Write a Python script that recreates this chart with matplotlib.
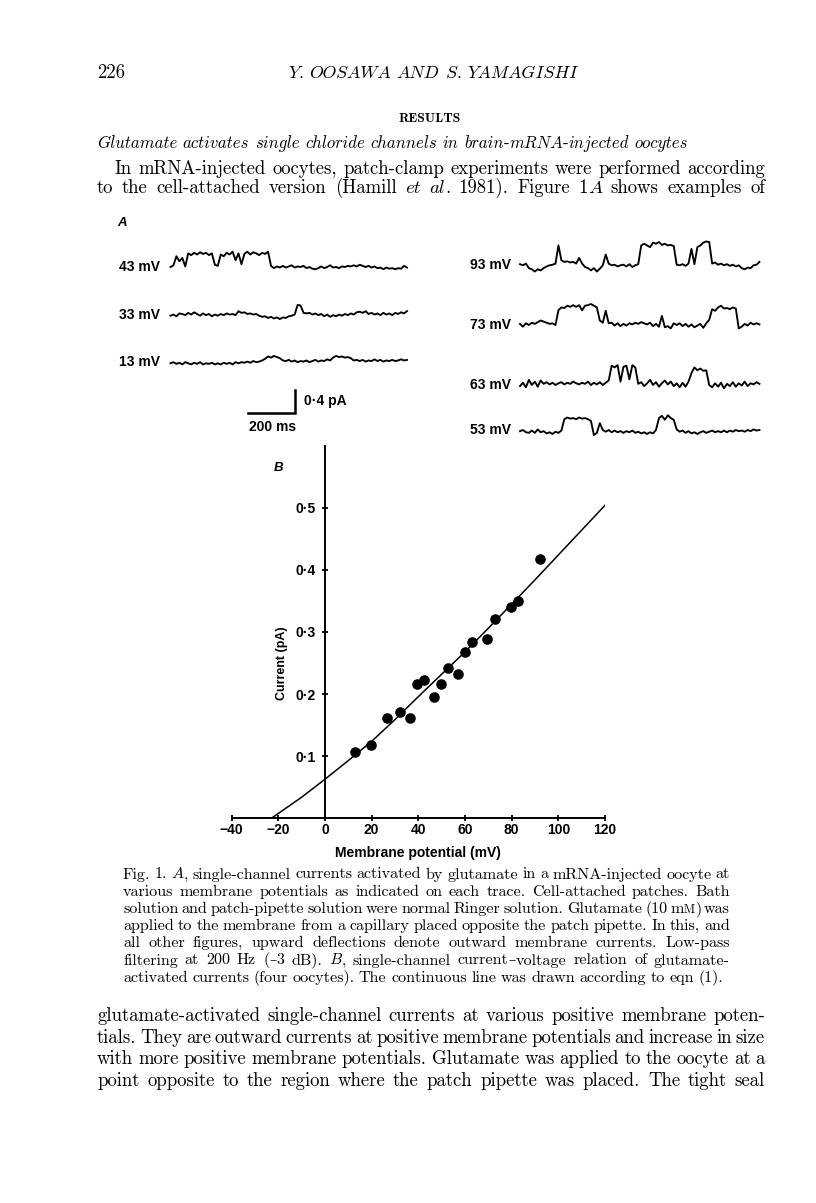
import re
import numpy as np
import matplotlib
matplotlib.use('Agg')
import matplotlib.pyplot as plt

W, H = 816, 1203

# ---- panel B: single-channel I-V relation ----
v_mv = [12.7, 19.5, 26.5, 32.3, 36.6, 39.5, 42.6, 46.9, 49.8, 52.9, 56.9, 59.9, 62.8, 69.5, 72.8, 79.5, 82.5, 92.3]
i_pa = [0.106, 0.118, 0.161, 0.171, 0.161, 0.216, 0.222, 0.195, 0.217, 0.242, 0.232, 0.267, 0.284, 0.288, 0.321, 0.341, 0.350, 0.418]
# continuous line (eqn 1)
fit_v = [-23, -10, 0, 10, 20, 30, 40, 50, 60, 70, 80, 90, 100, 110, 120]
fit_i = [0, 0.034, 0.063, 0.093, 0.124, 0.159, 0.196, 0.232, 0.268, 0.306, 0.345, 0.384, 0.424, 0.464, 0.504]
x_ticks = [-40, -20, 0, 20, 40, 60, 80, 100, 120]
x_ticklabels = ['\u221240', '\u221220', '0', '20', '40', '60', '80', '100', '120']
y_ticks = [0.1, 0.2, 0.3, 0.4, 0.5]
y_ticklabels = ['0\u00b71', '0\u00b72', '0\u00b73', '0\u00b74', '0\u00b75']

# ---- panel A: current traces (pA), one sample every 12.5 ms ----
dt_ms = 12.5
trace_43 = [0.00, 0.03, 0.19, 0.10, 0.16, 0.01, 0.24, 0.21, 0.25, 0.22, 0.26, 0.23, 0.25, 0.21, 0.24, 0.04,
            0.02, 0.22, 0.19, 0.25, 0.22, 0.27, 0.12, 0.24, 0.05, 0.23, 0.27, 0.22, 0.26, 0.24, 0.21, 0.25,
            0.23, 0.27, 0.02, -0.02, 0.01, -0.01, 0.02, -0.01, 0.01, 0.03, -0.01, 0.01, 0.00, 0.02, -0.02,
            0.00, -0.03, -0.04, -0.02, 0.01, -0.02, 0.00, 0.03, -0.01, 0.00, -0.02, 0.01, 0.00, 0.02, 0.01,
            0.03, 0.01, 0.04, 0.02, 0.00, 0.02, -0.01, 0.01, -0.02, -0.01, -0.04, -0.01, -0.03, -0.02, -0.04,
            -0.02, -0.03, 0.02, -0.01]
trace_33 = [0.00, 0.02, -0.01, 0.04, 0.03, 0.01, 0.05, 0.02, 0.06, 0.03, 0.00, 0.04, 0.01, 0.03, -0.01, 0.02,
            0.00, 0.03, 0.01, 0.04, 0.02, 0.03, 0.01, 0.08, 0.05, 0.06, 0.03, 0.04, 0.02, 0.03, 0.00, -0.02,
            -0.01, -0.04, -0.02, -0.05, -0.03, -0.06, -0.03, -0.04, -0.01, 0.00, 0.02, 0.19, 0.18, 0.05, 0.04,
            0.05, 0.02, 0.04, 0.01, 0.03, -0.01, 0.02, -0.02, 0.01, -0.01, 0.02, 0.00, 0.03, 0.01, 0.04, 0.02,
            0.06, 0.07, 0.05, 0.08, 0.03, 0.05, 0.02, 0.04, 0.01, 0.05, 0.02, 0.04, 0.01, 0.05, 0.03, 0.06,
            0.04, 0.08]
trace_13 = [0.00, 0.02, -0.01, 0.01, -0.02, 0.02, 0.00, -0.02, 0.01, -0.01, 0.02, -0.02, 0.00, -0.01, 0.01,
            -0.02, 0.00, -0.02, 0.01, -0.01, 0.01, -0.02, 0.02, 0.00, 0.02, 0.01, 0.03, 0.01, 0.04, 0.02,
            0.03, 0.05, 0.08, 0.12, 0.10, 0.13, 0.11, 0.09, 0.05, 0.04, 0.06, 0.03, 0.05, 0.02, 0.04, 0.03,
            0.05, 0.02, 0.04, 0.06, 0.03, 0.05, 0.04, 0.07, 0.05, 0.10, 0.13, 0.11, 0.12, 0.10, 0.11, 0.09,
            0.05, 0.06, 0.04, 0.06, 0.03, 0.05, 0.04, 0.07, 0.04, 0.06, 0.03, 0.05, 0.04, 0.06, 0.04, 0.05,
            0.07, 0.05, 0.06]
trace_93 = [0.02, 0.00, 0.03, -0.05, -0.07, -0.11, -0.07, -0.09, -0.05, -0.02, 0.00, 0.01, 0.03, 0.35, 0.09,
            0.06, 0.07, 0.05, 0.06, 0.03, 0.13, 0.03, -0.03, -0.05, -0.09, -0.05, -0.11, -0.06, 0.00, 0.19,
            0.03, 0.00, 0.01, -0.02, 0.00, 0.01, -0.02, 0.02, -0.03, 0.00, 0.02, 0.35, 0.38, 0.35, 0.32, 0.40,
            0.38, 0.41, 0.36, 0.38, 0.35, 0.36, 0.34, 0.01, 0.00, 0.02, -0.01, 0.03, 0.29, 0.02, 0.32, 0.35,
            0.40, 0.42, 0.41, 0.03, 0.05, 0.01, 0.03, 0.00, 0.02, -0.01, 0.01, -0.02, 0.00, -0.05, -0.07,
            -0.04, -0.05, 0.00, 0.01, 0.06]
trace_73 = [0.02, -0.03, 0.03, 0.00, 0.04, 0.02, 0.05, 0.08, 0.06, 0.04, 0.02, 0.03, 0.00, 0.26, 0.31, 0.30,
            0.34, 0.32, 0.35, 0.32, 0.35, 0.26, 0.34, 0.35, 0.37, 0.34, 0.31, 0.08, 0.04, 0.25, 0.03, 0.04,
            -0.01, 0.03, -0.02, 0.02, -0.01, 0.03, 0.01, 0.04, 0.02, 0.05, 0.03, 0.01, 0.04, -0.02, 0.02,
            -0.03, 0.16, -0.04, -0.02, -0.06, 0.03, 0.00, 0.03, -0.02, 0.02, -0.03, 0.01, -0.04, -0.01, 0.02,
            -0.05, 0.03, 0.09, 0.28, 0.25, 0.31, 0.34, 0.29, 0.30, 0.28, 0.31, 0.29, -0.06, -0.03, 0.02,
            -0.01, 0.04, 0.01, 0.03, 0.01]
trace_63 = [-0.02, 0.04, -0.04, 0.09, 0.00, 0.06, -0.03, 0.08, 0.02, 0.05, 0.01, 0.04, 0.00, 0.03, 0.05, 0.01,
            0.04, 0.02, 0.06, 0.03, 0.01, 0.04, 0.02, 0.06, 0.00, 0.04, 0.01, 0.05, 0.00, 0.04, 0.08, 0.34,
            0.31, 0.35, 0.06, 0.32, 0.34, 0.10, 0.35, 0.31, 0.02, 0.05, -0.02, 0.03, 0.09, 0.00, 0.05, -0.03,
            0.03, 0.08, 0.01, 0.06, -0.02, 0.03, -0.04, 0.04, -0.03, 0.06, 0.21, 0.31, 0.26, 0.29, 0.25, 0.26,
            0.00, -0.04, 0.03, -0.03, 0.04, -0.06, 0.02, -0.02, 0.05, -0.03, 0.03, -0.01, 0.06, -0.02, 0.03,
            0.01, 0.05, 0.02]
trace_53 = [0.01, 0.03, -0.01, -0.02, 0.02, -0.02, 0.04, -0.01, 0.01, -0.03, -0.01, -0.04, 0.00, -0.02, 0.02,
            0.22, 0.25, 0.23, 0.24, 0.22, 0.25, 0.23, 0.24, 0.22, 0.19, -0.06, -0.02, 0.15, 0.03, 0.00, 0.03,
            -0.01, 0.02, -0.01, 0.01, -0.02, 0.01, -0.01, 0.02, -0.02, 0.00, -0.03, -0.01, -0.04, -0.01,
            -0.03, 0.03, 0.24, 0.28, 0.21, 0.29, 0.24, 0.21, 0.04, 0.00, 0.02, -0.02, 0.01, -0.03, -0.01,
            -0.04, -0.01, 0.01, -0.02, 0.00, 0.02, -0.01, 0.01, -0.01, 0.02, -0.01, 0.02, 0.00, 0.03, 0.01,
            0.02, 0.00, 0.03, 0.01, 0.04, 0.02, 0.03]

left_labels = ['43 mV', '33 mV', '13 mV']
left_traces = [trace_43, trace_33, trace_13]
right_labels = ['93 mV', '73 mV', '63 mV', '53 mV']
right_traces = [trace_93, trace_73, trace_63, trace_53]

# ---- page text ----
running_head = '*Y. *OOSAWA *AND *S. *YAMAGISHI'
heading = '*Glutamate *activates *single *chloride *channels *in *brain-mRNA-injected *oocytes'
para = ['In mRNA-injected oocytes, patch-clamp experiments were performed according',
        'to the cell-attached version (Hamill *et *al|. 1981). Figure 1|*A shows examples of']
caption = ['Fig. 1. *A|, single-channel currents activated by glutamate in a mRNA-injected oocyte at',
           'various membrane potentials as indicated on each trace. Cell-attached patches. Bath',
           'solution and patch-pipette solution were normal Ringer solution. Glutamate (10 m|^M|) was',
           'applied to the membrane from a capillary placed opposite the patch pipette. In this, and',
           'all other figures, upward deflections denote outward membrane currents. Low-pass',
           'filtering at 200 Hz (|~\u2013|3 dB). *B|, single-channel current|~\u2013|voltage relation of glutamate-',
           'activated currents (four oocytes). The continuous line was drawn according to eqn (1).']
body = ['glutamate-activated single-channel currents at various positive membrane poten-',
        'tials. They are outward currents at positive membrane potentials and increase in size',
        'with more positive membrane potentials. Glutamate was applied to the oocyte at a',
        'point opposite to the region where the patch pipette was placed. The tight seal']

SANS = 'Liberation Sans'
ROMAN, ITAL = 'cmr10', 'cmmi10'
PX_MS = 0.2365   # px per ms in panel A
PX_PA = 56.7     # px per pA in panel A
SPACE = 0.333    # interword space, em

fig = plt.figure(figsize=(W / 100, H / 100), dpi=100)
page = fig.add_axes([0, 0, 1, 1])
page.set_xlim(0, W)
page.set_ylim(H, 0)
page.axis('off')
rend = fig.canvas.get_renderer()


def px_axes(x, top, w, h):
    return fig.add_axes([x / W, 1 - (top + h) / H, w / W, h / H])


def runs(word, size):
    out = []
    for part in word.split('|'):
        if part.startswith('*'):
            for r in re.findall(r'[A-Za-z]+|[^A-Za-z]+', part[1:]):
                out.append((r, ITAL if r[0].isalpha() else ROMAN, size))
        elif part.startswith('^'):
            out.append((part[1:], ROMAN, size * 0.75))
        elif part.startswith('~'):
            out.append((part[1:], 'DejaVu Serif', size * 0.9))
        elif part:
            out.append((part, ROMAN, size))
    return out


def make_words(text, yb, size):
    items = []
    for w in text.split(' '):
        arts, wx = [], 0
        for s, fam, sz in runs(w, size):
            t = page.text(0, yb, s, family=fam, fontsize=sz, va='baseline', ha='left')
            arts.append((t, wx))
            wx += t.get_window_extent(rend).width
        items.append((arts, wx))
    return items


def fit_size(lines, width, ref=10.0):
    # font size at which words + natural spaces fill the measure
    sizes = []
    for text, w in zip(lines, width):
        items = make_words(text, 0, ref)
        words_w = sum(ww for _, ww in items)
        for arts, _ in items:
            for t, _ in arts:
                t.remove()
        n = len(items) - 1
        sizes.append(w / (words_w / ref + n * SPACE * 100 / 72))
    return float(np.median(sizes))


def draw_line(text, x0, x1, yb, size, justify=True):
    items = make_words(text, yb, size)
    total = sum(w for _, w in items)
    if justify and len(items) > 1:
        gap = (x1 - x0 - total) / (len(items) - 1)
    else:
        gap = size * 100 / 72 * SPACE
    x = x0
    for arts, ww in items:
        for t, off in arts:
            t.set_x(x + off)
        x += ww + gap


body_size = fit_size(para + body, [650, 668, 668, 668, 668, 668])
cap_size = fit_size(caption[:-1], [607] * 6)
head_size = fit_size([heading], [591])
run_size = fit_size([running_head], [289])

# running head and text above the figure
page.text(97, 78, '226', family=ROMAN, fontsize=body_size, va='baseline')
draw_line(running_head, 288, 577, 78, run_size)
page.text(430, 122, 'RESULTS', family='cmb10', fontsize=body_size * 0.72, va='baseline', ha='center')
draw_line(heading, 97, 688, 147.5, head_size)
draw_line(para[0], 115, 765, 174, body_size)
draw_line(para[1], 97, 765, 193, body_size)

# figure caption and text below
for k, line in enumerate(caption):
    x1 = 730 if k < len(caption) - 1 else 723
    draw_line(line, 123, x1, 878.5 + 17.2 * k, cap_size)
for k, line in enumerate(body):
    draw_line(line, 97, 765, 1021 + 21.7 * k, body_size)

# ---- panel A ----
page.text(122, 223, 'A', family=SANS, fontsize=9.5, weight='bold', style='italic', va='center', ha='center')


def draw_trace(vals, x0, base):
    lo, hi = -0.3, 0.6
    dur = (len(vals) - 1) * dt_ms
    a = px_axes(x0, base - hi * PX_PA, dur * PX_MS, (hi - lo) * PX_PA)
    a.plot(np.arange(len(vals)) * dt_ms, vals, color='k', lw=1.35, clip_on=False)
    a.set_xlim(0, dur)
    a.set_ylim(lo, hi)
    a.axis('off')


for lab, vals, base, ly in zip(left_labels, left_traces, [267, 315.7, 363.3], [266.7, 315, 361.7]):
    draw_trace(vals, 170.5, base)
    page.text(160, ly, lab, family=SANS, fontsize=10, weight='bold', ha='right', va='center')
for lab, vals, base, ly in zip(right_labels, right_traces, [265.3, 325, 385, 431.7], [265, 325, 385, 430]):
    draw_trace(vals, 520, base)
    page.text(511, ly, lab, family=SANS, fontsize=10, weight='bold', ha='right', va='center')

# scale bars: 200 ms, 0.4 pA
sb = px_axes(247.7, 412.7 - 0.4 * PX_PA, 200 * PX_MS, 0.4 * PX_PA)
sb.plot([0, 200, 200], [0, 0, 0.4], color='k', lw=1.8, clip_on=False, solid_joinstyle='miter')
sb.set_xlim(0, 200)
sb.set_ylim(0, 0.4)
sb.axis('off')
page.text(304, 401, '0\u00b74 pA', family=SANS, fontsize=10, weight='bold', va='center', ha='left')
page.text(273, 427, '200 ms', family=SANS, fontsize=10, weight='bold', va='center', ha='center')

# ---- panel B ----
ax = px_axes(231.7, 445.7, 373.3, 372.6)
ax.plot(fit_v, fit_i, color='k', lw=1.1)
ax.plot(v_mv, i_pa, 'o', color='k', ms=6.6)
ax.set_xlim(-40, 120)
ax.set_ylim(0, 0.6)
for s in ['top', 'right']:
    ax.spines[s].set_visible(False)
ax.spines['left'].set_position(('data', 0))
for s in ['left', 'bottom']:
    ax.spines[s].set_linewidth(1.4)
ax.set_xticks(x_ticks)
ax.set_xticklabels(x_ticklabels, family=SANS, fontsize=10, weight='bold')
ax.set_yticks(y_ticks)
ax.set_yticklabels(y_ticklabels, family=SANS, fontsize=10, weight='bold')
ax.tick_params(axis='x', direction='inout', length=5, width=1.3, pad=1)
ax.tick_params(axis='y', direction='inout', length=5, width=1.3, pad=4)
ax.set_xlabel('Membrane potential (mV)', family=SANS, fontsize=10, weight='bold')
ax.xaxis.set_label_coords(0.5, -0.093)
ax.xaxis.label.set_va('center')
ax.set_ylabel('Current (pA)', family=SANS, fontsize=9, weight='bold')
ax.yaxis.set_label_coords(0.136, 0.417)
ax.yaxis.label.set_va('center')
ax.text(0.125, 0.939, 'B', transform=ax.transAxes, family=SANS, fontsize=9.5,
        weight='bold', style='italic', ha='center', va='center')
ax.patch.set_alpha(0)

fig.savefig('out.png', dpi=100)
